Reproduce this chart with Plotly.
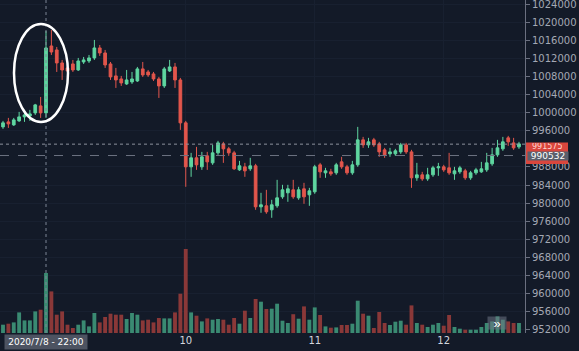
import plotly.graph_objects as go
import pandas as pd

# ---------------- data (hourly candles, 2020-07-08 14:00 -> 2020-07-12 14:00) ----------------
start_time = "2020-07-08 14:00"
n_bars = 97

opens = [996870, 997980, 997310, 998200, 999080, 999300, 999970, 1001510, 999970, 1014780,
         1013900, 1011020, 1009920, 1010800, 1009470, 1011240, 1011460, 1012130, 1014340, 1013230,
         1010800, 1008150, 1007480, 1006380, 1006820, 1007040, 1009700, 1009030, 1008590, 1007480,
         1005940, 1009250, 1010140, 1007260, 997760, 988030, 990020, 988030, 990460, 988910,
         991120, 993110, 992010, 991120, 987360, 988030, 987590, 988250, 979180, 979400,
         978520, 979400, 981390, 982280, 982940, 981170, 983160, 981840, 982500, 988470,
         986700, 986920, 986700, 989130, 988030, 986700, 988470, 994000, 992890, 994000,
         993110, 991790, 990900, 990900, 991340, 992890, 991340, 985600, 986260, 985370,
         986260, 987810, 988030, 987810, 986480, 986920, 987140, 985600, 986700, 986920,
         987360, 988690, 990680, 992010, 994440, 993330, 992450]
highs = [998200, 998860, 998860, 1000190, 1000630, 1000630, 1001960, 1003500, 1018100, 1018320,
         1014560, 1011690, 1011240, 1011690, 1012130, 1012350, 1012790, 1016110, 1015000, 1013900,
         1011240, 1009920, 1008150, 1009470, 1009030, 1010140, 1011240, 1009470, 1009030, 1007930,
         1010140, 1011690, 1011020, 1007710, 998200, 991120, 992450, 991340, 991340, 992890,
         993780, 993560, 992450, 991570, 989350, 988910, 990020, 988690, 982280, 982940,
         980730, 985150, 984050, 984050, 985150, 983610, 984490, 983380, 988470, 988910,
         987810, 987590, 988910, 990240, 988470, 989350, 996870, 994660, 994440, 994440,
         993560, 992230, 992230, 992010, 993330, 993330, 991790, 988910, 986920, 987810,
         988250, 988910, 988470, 991120, 988030, 988250, 987590, 987140, 987810, 989130,
         991120, 992230, 994000, 994660, 994880, 994440, 993560]
lows = [996430, 996650, 997090, 997980, 997980, 998200, 999520, 998860, 998860, 1012790,
        1009030, 1007260, 1007260, 1009030, 1009250, 1010800, 1011020, 1011690, 1012570, 1009920,
        1007260, 1005490, 1005940, 1006160, 1006380, 1006820, 1007930, 1007930, 1007040, 1003280,
        1005490, 1009030, 1005490, 996210, 983610, 985820, 987360, 987360, 987360, 988470,
        990680, 988910, 990460, 987360, 987140, 985820, 987140, 978520, 977860, 977640,
        976750, 978960, 980950, 980290, 980950, 980730, 979850, 979400, 982060, 985600,
        985600, 986040, 986260, 987590, 986260, 986260, 988030, 992230, 992230, 992450,
        990240, 990020, 990240, 990460, 990900, 990900, 983380, 984930, 984930, 984930,
        985820, 986040, 986920, 986260, 985150, 986480, 985150, 985150, 986260, 986700,
        986920, 988250, 990240, 991570, 992670, 991790, 992010]
closes = [997760, 997540, 998420, 999080, 999520, 999750, 1001740, 999970, 1014340, 1013450,
          1011020, 1009470, 1009250, 1009470, 1011460, 1011690, 1012130, 1014340, 1013230, 1010580,
          1007930, 1007260, 1006600, 1007260, 1007480, 1009700, 1008370, 1008370, 1007480, 1005940,
          1009700, 1010140, 1007260, 997760, 988030, 990020, 988470, 990240, 989130, 991120,
          993330, 992010, 991120, 987590, 988250, 987140, 988250, 979180, 979630, 978080,
          979630, 981170, 982940, 983160, 981390, 982940, 981390, 982720, 988030, 986920,
          987140, 986480, 988470, 988030, 986700, 988470, 994000, 992890, 993560, 992890,
          991340, 990680, 991340, 991570, 992890, 991340, 985600, 986260, 985370, 986260,
          987810, 988030, 987360, 986700, 987140, 987810, 985600, 986700, 987360, 987590,
          988910, 990680, 992230, 993560, 993560, 992230, 993110]
volumes = [83, 93, 106, 206, 126, 126, 216, 233, 600, 416,
           183, 216, 83, 50, 83, 126, 66, 200, 106, 160,
           193, 183, 183, 140, 200, 183, 126, 133, 106, 150,
           146, 146, 206, 393, 840, 206, 173, 116, 146, 133,
           140, 133, 83, 150, 93, 223, 150, 340, 313, 240,
           243, 293, 123, 100, 188, 143, 266, 133, 256, 180,
           66, 53, 56, 80, 80, 93, 323, 193, 173, 50,
           210, 100, 80, 113, 123, 83, 276, 100, 83, 60,
           83, 100, 73, 180, 60, 43, 33, 33, 33, 60,
           100, 116, 166, 133, 116, 100, 100]

# 992000 is hidden behind the price labels in the reference
price_ticks = [952000, 956000, 960000, 964000, 968000, 972000, 976000, 980000, 984000, 988000,
               996000, 1000000, 1004000, 1008000, 1012000, 1016000, 1020000, 1024000]
day_ticks = ["2020-07-10", "2020-07-11", "2020-07-12"]
day_labels = ["10", "11", "12"]

crosshair_time = "2020-07-08 22:00"
crosshair_text = "2020/7/8 - 22:00"
crosshair_price = 990532
last_price = 991575
last_price_line = 993050

# ---------------- style ----------------
BG = "#131a28"
UP = "#5fd6a0"
DOWN = "#e2564c"
UP_VOL = "#3a8a72"
DOWN_VOL = "#8a3838"
TXT = "#a4a8b4"
GRID = "#182030"

times = pd.date_range(start_time, periods=n_bars, freq="h")
vol_colors = [UP_VOL if c >= o else DOWN_VOL for o, c in zip(opens, closes)]

fig = go.Figure()
fig.add_trace(go.Bar(x=times, y=volumes, marker=dict(color=vol_colors, line=dict(width=0)),
                     width=0.72 * 3600000, yaxis="y", showlegend=False, hoverinfo="skip"))
fig.add_trace(go.Candlestick(
    x=times, open=opens, high=highs, low=lows, close=closes, yaxis="y2",
    increasing=dict(line=dict(color=UP, width=1), fillcolor=UP),
    decreasing=dict(line=dict(color=DOWN, width=1), fillcolor=DOWN),
    whiskerwidth=0, showlegend=False))

t0 = pd.Timestamp(start_time)
xr = [t0 - pd.Timedelta(hours=0.56), t0 + pd.Timedelta(hours=97.12)]

fig.update_layout(
    width=579, height=351,
    margin=dict(l=0, r=54, t=0, b=18),
    paper_bgcolor=BG, plot_bgcolor=BG,
    font=dict(family="Liberation Sans, Arial, sans-serif", color=TXT, size=10),
    boxgap=0.28,
    xaxis=dict(type="date", range=xr, tickvals=day_ticks, ticktext=day_labels,
               showgrid=True, gridcolor=GRID, zeroline=False, showline=False,
               rangeslider=dict(visible=False), ticks="",
               tickfont=dict(color="#d3d6de", size=10, family="DejaVu Sans")),
    yaxis=dict(range=[0, 3330], visible=False, fixedrange=True),
    yaxis2=dict(overlaying="y", side="right", range=[951258, 1024951],
                tickvals=price_ticks, tickformat="d", ticks="outside", ticklen=4,
                tickcolor="#6b7080", showline=True, linecolor="#6b7080", linewidth=1,
                showgrid=True, gridcolor=GRID, zeroline=False, ticklabeloverflow="allow",
                tickfont=dict(color=TXT, size=10, family="DejaVu Sans")),
    bargap=0.25,
)

H = 333.0
W = 525.0
shapes = [
    dict(type="line", xref="x", yref="paper", x0=crosshair_time, x1=crosshair_time, y0=0, y1=1,
         line=dict(color="#7d8494", width=1, dash="dot"), layer="above"),
    dict(type="line", xref="paper", yref="y2", x0=0, x1=1, y0=last_price_line, y1=last_price_line,
         line=dict(color="#8c919e", width=1, dash="dot"), layer="above"),
    dict(type="line", xref="paper", yref="y2", x0=0, x1=1, y0=crosshair_price, y1=crosshair_price,
         line=dict(color="#6c7282", width=1, dash="dash"), layer="above"),
    dict(type="circle", xref="paper", yref="paper", x0=14 / W, x1=68 / W,
         y0=1 - 122 / H, y1=1 - 24 / H, line=dict(color="white", width=2.5), layer="above"),
    dict(type="rect", xref="paper", yref="paper", x0=526 / W, x1=568 / W,
         y0=1 - 164 / H, y1=1 - 142.5 / H, fillcolor="#d9463d", line=dict(width=0), layer="above"),
]
fig.update_layout(shapes=shapes)

annotations = [
    dict(xref="paper", yref="paper", x=547 / W, y=1 - 146.3 / H, text=str(last_price),
         showarrow=False, font=dict(color="#ffd6d2", size=8, family="DejaVu Sans"),
         xanchor="center", yanchor="middle", height=7, borderpad=0),
    dict(xref="paper", yref="y2", x=548 / W, y=crosshair_price, text=str(crosshair_price),
         showarrow=False, font=dict(color="white", size=9, family="DejaVu Sans"),
         bgcolor="#5a5f6c", width=40, height=8, borderpad=0,
         xanchor="center", yanchor="middle"),
    dict(xref="x", yref="paper", x=crosshair_time, y=-9 / H, text=crosshair_text,
         showarrow=False, font=dict(color="white", size=9, family="DejaVu Sans"),
         bgcolor="#4d5361", width=80, height=12, borderpad=1,
         xanchor="center", yanchor="middle"),
    dict(xref="paper", yref="paper", x=497 / W, y=1 - 323 / H, text="»",
         showarrow=False, font=dict(color="white", size=13),
         bgcolor="rgba(110,116,132,0.55)", width=18, height=12, borderpad=0,
         xanchor="center", yanchor="middle"),
]
fig.update_layout(annotations=annotations)

fig.write_html("out.html")
